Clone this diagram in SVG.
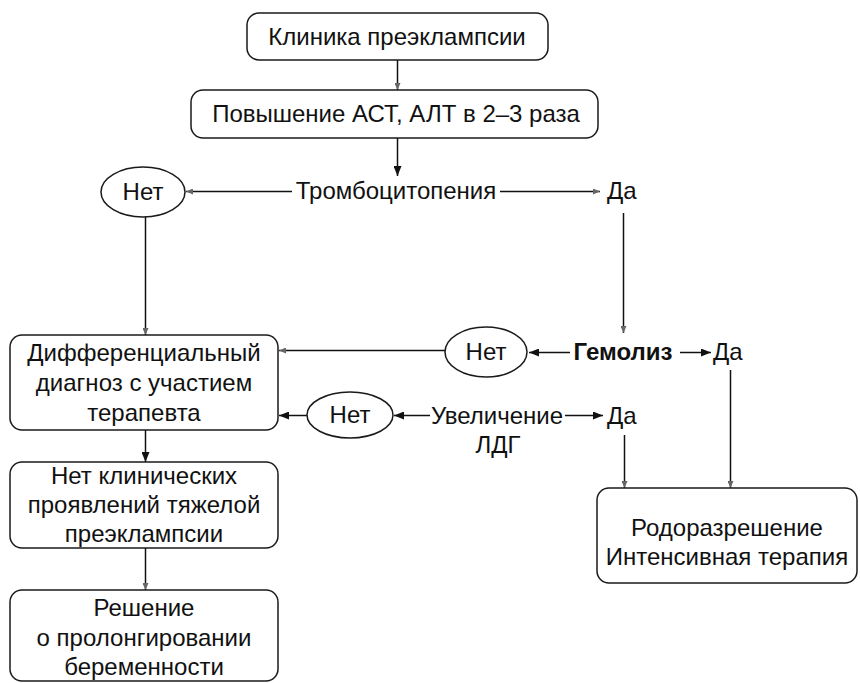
<svg xmlns="http://www.w3.org/2000/svg" width="860" height="683" viewBox="0 0 860 683">
<style>
.box{fill:#fff;stroke:#1a1a1a;stroke-width:1.5}
.ell{fill:#fff;stroke:#1a1a1a;stroke-width:1.5}
.t{font-family:"Liberation Sans",Arial,sans-serif;font-size:24px;fill:#111;text-anchor:middle}
.s{text-anchor:start}
.b{font-weight:bold}
.ln{fill:none;stroke:#111;stroke-width:1.5}
.sol{marker-end:url(#solid)}
.fnt{marker-end:url(#faint)}
</style>
<defs>
<marker id="solid" markerUnits="userSpaceOnUse" markerWidth="10" markerHeight="8" refX="10" refY="4" orient="auto">
<path d="M0,0 L10,4 L0,8 z" fill="#111"/>
</marker>
<marker id="faint" markerUnits="userSpaceOnUse" markerWidth="7" markerHeight="6" refX="7" refY="3" orient="auto">
<path d="M0,0 L7,3 L0,6 z" fill="#666"/>
</marker>
</defs>
<rect width="860" height="683" fill="#fff"/>
<g id="connectors">
<line class="ln fnt" x1="397.5" y1="60" x2="397.5" y2="90"/>
<line class="ln sol" x1="397.5" y1="138" x2="397.5" y2="176"/>
<line class="ln fnt" x1="292" y1="191.5" x2="186" y2="191.5"/>
<line class="ln fnt" x1="500" y1="191.5" x2="600" y2="191.5"/>
<line class="ln fnt" x1="623.5" y1="213" x2="623.5" y2="333"/>
<line class="ln fnt" x1="145.5" y1="217" x2="145.5" y2="335"/>
<line class="ln sol" x1="570" y1="352.5" x2="529" y2="352.5"/>
<line class="ln sol" x1="680" y1="352.5" x2="711" y2="352.5"/>
<line class="ln fnt" x1="445" y1="350.5" x2="279" y2="350.5"/>
<line class="ln fnt" x1="730.5" y1="370" x2="730.5" y2="488"/>
<line class="ln sol" x1="430" y1="415.5" x2="394" y2="415.5"/>
<line class="ln sol" x1="307" y1="415.5" x2="279" y2="415.5"/>
<line class="ln sol" x1="565" y1="415.5" x2="603" y2="415.5"/>
<line class="ln fnt" x1="624.5" y1="435" x2="624.5" y2="488"/>
<line class="ln sol" x1="145.5" y1="430" x2="145.5" y2="462"/>
<line class="ln fnt" x1="145.5" y1="548" x2="145.5" y2="590"/>
</g>
<g id="n1"><rect class="box" x="247" y="13" width="301" height="47" rx="12"/><text class="t" x="397" y="45">Клиника преэклампсии</text></g>
<g id="n2"><rect class="box" x="191" y="90" width="407" height="48" rx="12"/><text class="t" x="396" y="122">Повышение АСТ, АЛТ в 2–3 раза</text></g>
<g id="n3"><text class="t" x="396" y="199">Тромбоцитопения</text></g>
<g id="n4"><ellipse class="ell" cx="143" cy="192" rx="42" ry="25"/><text class="t" x="143" y="200">Нет</text></g>
<g id="n5"><text class="t s" x="607" y="199">Да</text></g>
<g id="n6"><rect class="box" x="10" y="335" width="268" height="95" rx="12"/><text class="t" x="144" y="361">Дифференциальный</text><text class="t" x="144" y="391">диагноз с участием</text><text class="t" x="144" y="421">терапевта</text></g>
<g id="n7"><ellipse class="ell" cx="486" cy="352" rx="41" ry="25"/><text class="t" x="486" y="360">Нет</text></g>
<g id="n8"><text class="t b" x="623" y="360">Гемолиз</text></g>
<g id="n9"><text class="t s" x="713" y="360">Да</text></g>
<g id="n10"><ellipse class="ell" cx="350" cy="415" rx="43" ry="23"/><text class="t" x="350" y="423">Нет</text></g>
<g id="n11"><text class="t" x="497" y="424">Увеличение</text><text class="t" x="498" y="453">ЛДГ</text></g>
<g id="n12"><text class="t s" x="607" y="424">Да</text></g>
<g id="n13"><rect class="box" x="10" y="462" width="268" height="86" rx="12"/><text class="t" x="144" y="484">Нет клинических</text><text class="t" x="144" y="513">проявлений тяжелой</text><text class="t" x="144" y="542">преэклампсии</text></g>
<g id="n14"><rect class="box" x="10" y="590" width="268" height="91" rx="12"/><text class="t" x="144" y="616">Решение</text><text class="t" x="144" y="646">о пролонгировании</text><text class="t" x="144" y="675">беременности</text></g>
<g id="n15"><rect class="box" x="597" y="488" width="260" height="95" rx="12"/><text class="t" x="727" y="536">Родоразрешение</text><text class="t" x="727" y="565">Интенсивная терапия</text></g>
</svg>
